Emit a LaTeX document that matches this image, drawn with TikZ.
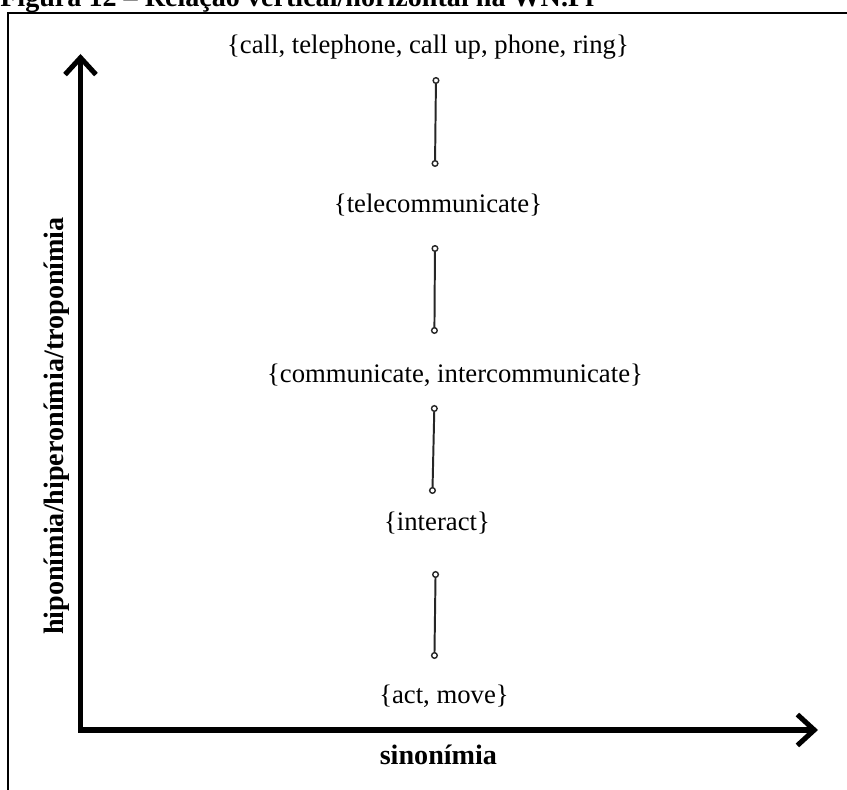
\documentclass[tikz,border=0pt]{standalone}
\usepackage{fontspec}
\setmainfont{Liberation Serif}
\usetikzlibrary{arrows.meta}

\begin{document}
\begin{tikzpicture}[
  synset/.style={font=\fontsize{19}{22}\selectfont, inner sep=0pt},
  axislabel/.style={font=\fontsize{20}{24}\selectfont\bfseries, inner sep=0pt},
  axis/.style={line width=3.6pt, {Straight Barb[length=12pt,width=22pt]}-{Straight Barb[length=12pt,width=22pt]}},
  link/.style={line width=1.4pt, black!85, {Circle[open,length=5pt,fill=white,line width=1pt]}-{Circle[open,length=5pt,fill=white,line width=1pt]}}
]
\useasboundingbox (0,0) rectangle (21.175,19.75);
\node[axislabel, anchor=base west] (caption) at (0,19.58) {Figura 12 – Relação vertical/horizontal na WN.Pr};
\draw[line width=2pt] (0.2,0) -- (0.2,19.425) -- (21.175,19.425);
% axes
\coordinate (origin) at (2.0125,1.5);
\coordinate (ytip) at (2.0125,18.4);
\coordinate (xtip) at (20.45,1.5);
\draw[axis] (ytip) -- (origin) -- (xtip);
\node[axislabel, rotate=90] (vlabel) at (1.425,9.1) {hiponímia/hiperonímia/troponímia};
\node[axislabel] (hlabel) at (10.96,0.875) {sinonímia};
% synsets
\node[synset] (call) at (10.7,18.575) {\{call, telephone, call up, phone, ring\}};
\node[synset] (telecom) at (10.95,14.625) {\{telecommunicate\}};
\node[synset] (communic) at (11.375,10.375) {\{communicate, intercommunicate\}};
\node[synset] (interact) at (10.925,6.675) {\{interact\}};
\node[synset] (act) at (11.1,2.35) {\{act, move\}};
% links
\coordinate (call-s) at (10.9,17.825);
\coordinate (telecom-n) at (10.875,15.575);
\coordinate (telecom-s) at (10.875,13.625);
\coordinate (communic-n) at (10.86,11.4);
\coordinate (communic-s) at (10.86,9.625);
\coordinate (interact-n) at (10.81,7.4);
\coordinate (interact-s) at (10.89,5.475);
\coordinate (act-n) at (10.86,3.275);
\draw[link] (call-s) -- (telecom-n);
\draw[link] (telecom-s) -- (communic-n);
\draw[link] (communic-s) -- (interact-n);
\draw[link] (interact-s) -- (act-n);
\end{tikzpicture}
\end{document}
